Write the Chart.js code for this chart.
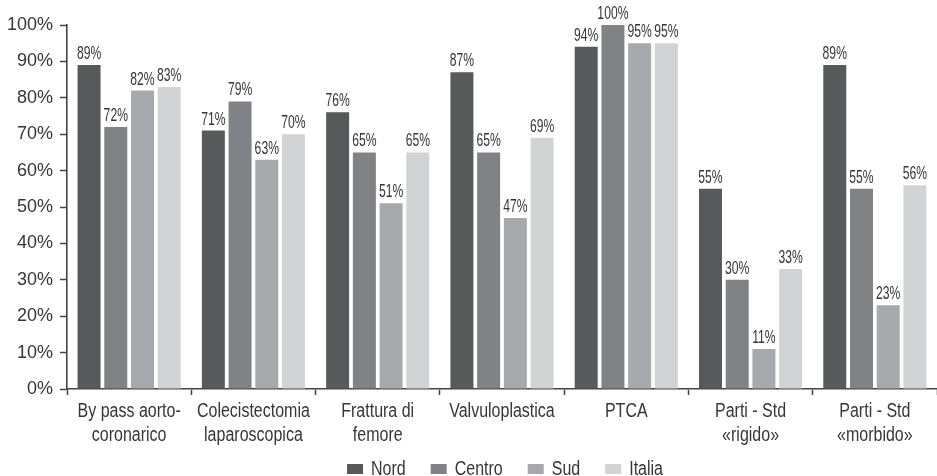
<!DOCTYPE html>
<html>
<head>
<meta charset="utf-8">
<script src="https://cdn.jsdelivr.net/npm/chart.js@4.4.1/dist/chart.umd.min.js"></script>
<style>
  html, body { margin: 0; padding: 0; background: #ffffff; }
  #wrap { width: 937px; height: 476px; position: relative; }
</style>
</head>
<body>
<div id="wrap"><canvas id="chart" width="937" height="476"></canvas></div>
<script>
// Interventions (two-line labels where the name wraps)
const categories = [
  ['By pass aorto-', 'coronarico'],
  ['Colecistectomia', 'laparoscopica'],
  ['Frattura di', 'femore'],
  ['Valvuloplastica'],
  ['PTCA'],
  ['Parti - Std', '«rigido»'],
  ['Parti - Std', '«morbido»']
];

// Share (%) by geographic area
const nord   = [89, 71, 76, 87, 94, 55, 89];
const centro = [72, 79, 65, 65, 100, 30, 55];
const sud    = [82, 63, 51, 47, 95, 11, 23];
const italia = [83, 70, 65, 69, 95, 33, 56];

const seriesNames = ['Nord', 'Centro', 'Sud', 'Italia'];
const seriesValues = [nord, centro, sud, italia];
const seriesColors = ['#58595b', '#808285', '#a7a9ac', '#d1d3d4'];

// Y axis: 0% .. 100% every 10
const yMin = 0, yMax = 100, yStep = 10;
const tickSuffix = '%';

const textColor = '#363636';
const axisColor = '#444444';
const baseFont = '"Liberation Sans", Arial, sans-serif';

// Text squeezed horizontally to imitate a condensed typeface
function condensedText(ctx, text, x, y, squeeze) {
  ctx.save();
  ctx.translate(x, y);
  ctx.scale(squeeze, 1);
  ctx.fillText(text, 0, 0);
  ctx.restore();
}

// Percentage written above every bar
const valueLabels = {
  id: 'valueLabels',
  afterDatasetsDraw(chart) {
    const ctx = chart.ctx;
    ctx.save();
    ctx.font = '19px ' + baseFont;
    ctx.fillStyle = textColor;
    ctx.textAlign = 'center';
    ctx.textBaseline = 'alphabetic';
    chart.data.datasets.forEach((ds, i) => {
      chart.getDatasetMeta(i).data.forEach((bar, j) => {
        condensedText(ctx, ds.data[j] + tickSuffix, bar.x, bar.y - 6, 0.64);
      });
    });
    ctx.restore();
  }
};

// Category names under the x axis, one or two lines each
const categoryLabels = {
  id: 'categoryLabels',
  afterDraw(chart) {
    const ctx = chart.ctx;
    const xs = chart.scales.x;
    ctx.save();
    ctx.font = '20px ' + baseFont;
    ctx.fillStyle = textColor;
    ctx.textAlign = 'center';
    ctx.textBaseline = 'alphabetic';
    chart.data.labels.forEach((lines, i) => {
      const px = xs.getPixelForTick(i);
      lines.forEach((line, k) => {
        condensedText(ctx, line, px, xs.top + 28 + k * 24, 0.8);
      });
    });
    ctx.restore();
  }
};

// Legend row at the bottom
const bottomLegend = {
  id: 'bottomLegend',
  afterDraw(chart) {
    const ctx = chart.ctx;
    const boxW = 16, boxH = 10, gap = 8, spacing = 25, squeeze = 0.8;
    ctx.save();
    ctx.font = '20px ' + baseFont;
    ctx.textBaseline = 'alphabetic';
    ctx.textAlign = 'left';
    const items = chart.data.datasets.map(ds => ({
      text: ds.label,
      color: ds.backgroundColor,
      w: ctx.measureText(ds.label).width * squeeze
    }));
    const total = items.reduce((s, it) => s + boxW + gap + it.w, 0) + spacing * (items.length - 1);
    const centre = (chart.chartArea.left + chart.chartArea.right) / 2 + 3;
    let x = centre - total / 2;
    const baseY = chart.height - 1;
    items.forEach(it => {
      ctx.fillStyle = it.color;
      ctx.fillRect(x, baseY - boxH - 1, boxW, boxH);
      ctx.fillStyle = textColor;
      condensedText(ctx, it.text, x + boxW + gap, baseY, squeeze);
      x += boxW + gap + it.w + spacing;
    });
    ctx.restore();
  }
};

new Chart(document.getElementById('chart'), {
  type: 'bar',
  data: {
    labels: categories,
    datasets: seriesNames.map((name, i) => ({
      label: name,
      data: seriesValues[i],
      backgroundColor: seriesColors[i],
      borderWidth: 0,
      categoryPercentage: 0.86,
      barPercentage: 0.86
    }))
  },
  options: {
    responsive: false,
    animation: false,
    devicePixelRatio: 1,
    layout: { padding: { top: 25, right: 0, bottom: 40, left: 0 } },
    plugins: {
      legend: { display: false },
      tooltip: { enabled: false }
    },
    scales: {
      x: {
        offset: true,
        grid: {
          offset: true,
          drawOnChartArea: false,
          drawTicks: true,
          tickLength: 6,
          tickColor: axisColor,
          tickWidth: 1.5
        },
        border: { display: true, color: axisColor, width: 1.6 },
        ticks: { display: false, autoSkip: false },
        afterFit(scale) { scale.height = 47; }
      },
      y: {
        min: yMin,
        max: yMax,
        grid: {
          drawOnChartArea: false,
          drawTicks: true,
          tickLength: 7,
          tickColor: axisColor,
          tickWidth: 1.5
        },
        border: { display: true, color: axisColor, width: 1.6 },
        ticks: {
          stepSize: yStep,
          color: textColor,
          font: { family: baseFont, size: 18 },
          padding: 7,
          callback: v => v + tickSuffix
        },
        afterFit(scale) { scale.width = 67; }
      }
    }
  },
  plugins: [valueLabels, categoryLabels, bottomLegend]
});
</script>
</body>
</html>
